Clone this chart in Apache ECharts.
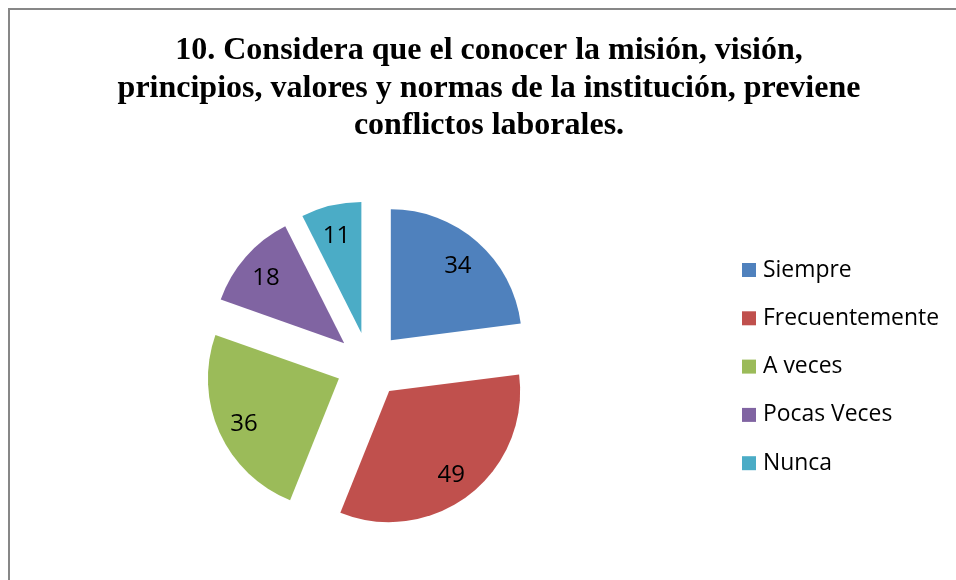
<!DOCTYPE html>
<html>
<head>
<meta charset="utf-8">
<script src="https://cdn.jsdelivr.net/npm/echarts@6/dist/echarts.min.js"></script>
<style>
html,body{margin:0;padding:0;background:#fff;}
#chart{width:956px;height:580px;}
</style>
</head>
<body>
<div id="chart"></div>
<script>
const titleText = "10. Considera que el conocer la misión, visión,\nprincipios, valores y normas de la institución, previene\nconflictos laborales.";
const categories = ["Siempre", "Frecuentemente", "A veces", "Pocas Veces", "Nunca"];
const values = [34, 49, 36, 18, 11];
const colors = ["#4F81BD", "#C0504D", "#9BBB59", "#8064A2", "#4BACC6"];

const chart = echarts.init(document.getElementById('chart'), null, {renderer: 'canvas'});

const sliceData = categories.map((c, i) => ({
  name: c, value: values[i], selected: true,
  itemStyle: {color: colors[i]}
}));
const labelData = categories.map((c, i) => ({
  name: c, value: values[i], selected: true,
  itemStyle: {color: 'rgba(0,0,0,0)'}
}));

const center = [369, 365];
const labelCenter = [368, 368];
const R = 131;
const offset = 33;

chart.setOption({
  animation: false,
  backgroundColor: '#ffffff',
  color: colors,
  graphic: [{
    type: 'rect',
    shape: {x: 9, y: 9, width: 1100, height: 1100},
    style: {fill: 'none', stroke: '#878787', lineWidth: 2},
    silent: true,
    z: 0
  }],
  title: {
    text: titleText,
    left: 489,
    top: 32,
    padding: 0,
    textAlign: 'center',
    textStyle: {
      fontFamily: '"Liberation Serif", "Times New Roman", serif',
      fontWeight: 'bold',
      fontSize: 32,
      lineHeight: 37.5,
      color: '#000'
    }
  },
  legend: {
    orient: 'vertical',
    left: 742,
    top: 258,
    padding: 0,
    itemWidth: 14,
    itemHeight: 14,
    itemGap: 24.3,
    icon: 'rect',
    selectedMode: false,
    data: categories,
    textStyle: {
      fontFamily: '"Open Sans", sans-serif',
      fontSize: 22.9,
      lineHeight: 24,
      color: '#000',
      padding: [0, 0, 0, 2]
    }
  },
  series: [
    {
      name: 'slices',
      type: 'pie',
      center: center,
      radius: [0, R],
      startAngle: 90,
      clockwise: true,
      selectedMode: 'multiple',
      selectedOffset: offset,
      silent: true,
      label: {show: false},
      labelLine: {show: false},
      emphasis: {disabled: true},
      itemStyle: {borderWidth: 0},
      data: sliceData
    },
    {
      name: 'labels',
      type: 'pie',
      center: labelCenter,
      radius: [69, R],
      startAngle: 90,
      clockwise: true,
      selectedMode: 'multiple',
      selectedOffset: offset,
      silent: true,
      z: 3,
      label: {
        show: true,
        position: 'inside',
        formatter: '{c}',
        fontFamily: '"Open Sans", sans-serif',
        fontSize: 24,
        color: '#000'
      },
      labelLine: {show: false},
      emphasis: {disabled: true},
      itemStyle: {borderWidth: 0},
      data: labelData
    }
  ]
});
</script>
</body>
</html>
